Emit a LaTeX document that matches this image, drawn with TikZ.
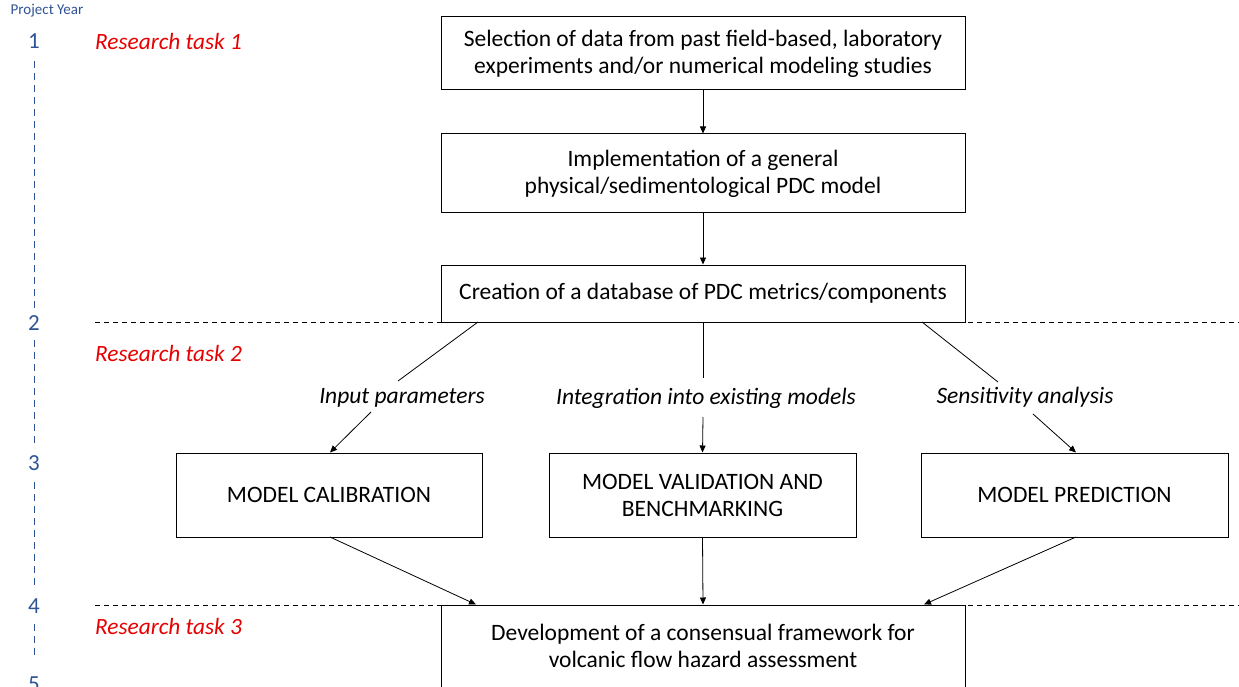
\documentclass[tikz,border=0pt]{standalone}
\usepackage{fontspec}
\setmainfont{Carlito}
\usetikzlibrary{arrows.meta}
\definecolor{yrblue}{RGB}{47,84,150}
\definecolor{taskred}{RGB}{230,0,0}
\begin{document}
\begin{tikzpicture}[x=1pt,y=-1pt,
  box/.style={draw,line width=1pt,align=center,inner sep=0pt,font=\fontsize{23.5}{27}\selectfont},
  lbl/.style={font=\fontsize{23.5}{27}\selectfont\itshape,inner sep=0pt},
  yr/.style={text=yrblue,font=\fontsize{23}{27}\selectfont,inner sep=0pt},
  task/.style={text=taskred,font=\fontsize{23.3}{27}\selectfont\itshape,inner sep=0pt,anchor=west},
  arr/.style={-{Triangle[length=7pt,width=6pt]},line width=0.8pt},
  ln/.style={line width=0.8pt},
  sep/.style={dashed,dash pattern=on 5pt off 4pt,line width=0.8pt},
  yl/.style={yrblue,dash pattern=on 7pt off 5pt,line width=1pt}]
\useasboundingbox (0,0) rectangle (1239,687);
% separators
\draw[sep] (95,322) -- (1239,322);
\draw[sep] (95,605) -- (1239,605);
% year axis
\node[text=yrblue,font=\fontsize{15}{17}\selectfont,inner sep=0pt] (py) at (47,11) {Project Year};
\node[yr] (y1) at (34,41) {1};
\node[yr] (y2) at (34,323) {2};
\node[yr] (y3) at (34,463) {3};
\node[yr] (y4) at (34,606) {4};
\node[yr] (y5) at (34,684) {5};
\draw[yl] (34,61) -- (34,308);
\draw[yl] (34,340) -- (34,448);
\draw[yl] (34,482) -- (34,590);
\draw[yl] (34,624) -- (34,660);
% tasks
\node[task] (t1) at (95,41) {Research task 1};
\node[task] (t2) at (95,353) {Research task 2};
\node[task] (t3) at (95,626) {Research task 3};
% boxes
\node[box,fill=white,minimum width=524pt,minimum height=73pt] (b1) at (703,53.5) {Selection of data from past field-based, laboratory\\experiments and/or numerical modeling studies};
\node[box,fill=white,minimum width=524pt,minimum height=79pt] (b2) at (703,173.5) {Implementation of a general\\physical/sedimentological PDC model};
\node[box,fill=white,minimum width=524pt,minimum height=57pt] (b3) at (703,293.5) {Creation of a database of PDC metrics/components};
\node[box,fill=white,minimum width=306pt,minimum height=84pt] (bc) at (329,495) {MODEL CALIBRATION};
\node[box,fill=white,minimum width=307pt,minimum height=84pt] (bv) at (702.5,495) {MODEL VALIDATION AND\\BENCHMARKING};
\node[box,fill=white,minimum width=307pt,minimum height=84pt] (bp) at (1074.5,495) {MODEL PREDICTION};
\node[box,fill=white,minimum width=524pt,minimum height=82pt] (bd) at (703,646) {Development of a consensual framework for\\volcanic flow hazard assessment};
% labels
\node[lbl] (l1) at (402,398) {Input parameters};
\node[lbl] (l2) at (706,398) {Integration into existing models};
\node[lbl] (l3) at (1025,397) {Sensitivity analysis};
% connectors
\draw[arr] (b1) -- (b2);
\draw[arr] (b2) -- (b3);
\coordinate (s1) at (478,322);
\coordinate (s3) at (922,322);
\coordinate (e1) at (398,381);
\coordinate (e3) at (998,382);
\coordinate (f1) at (371,412);
\coordinate (f3) at (1033,414);
\draw[ln] (s1) -- (e1);
\draw[arr] (f1) -- (330,452.5);
\draw[ln] (b3.south) -- (703,378);
\draw[arr] (703,417) -- (bv.north);
\draw[ln] (s3) -- (e3);
\draw[arr] (f3) -- (1076,452.5);
\coordinate (c1) at (330,537);
\coordinate (c3) at (1076,537);
\draw[arr] (c1) -- (476,604.5);
\draw[arr] (bv.south) -- (bd.north);
\draw[arr] (c3) -- (924,604.5);
\end{tikzpicture}
\end{document}
